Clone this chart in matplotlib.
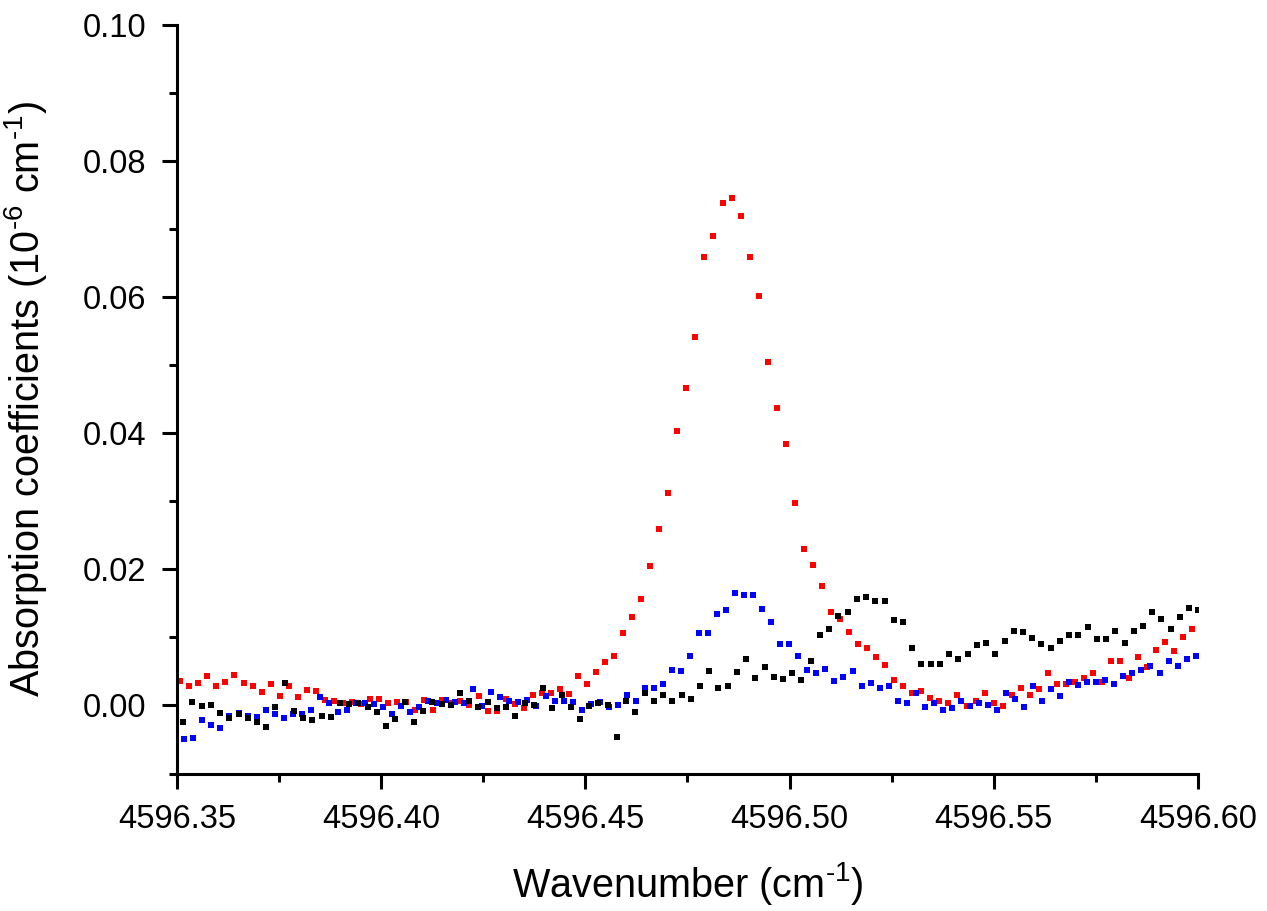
import numpy as np
import matplotlib
matplotlib.use("Agg")
import matplotlib.pyplot as plt
from matplotlib.ticker import MultipleLocator, FormatStrFormatter

plt.rcParams['font.family'] = ['Liberation Sans', 'DejaVu Sans']
plt.rcParams['mathtext.fontset'] = 'custom'
plt.rcParams['mathtext.rm'] = 'Liberation Sans'
plt.rcParams['mathtext.it'] = 'Liberation Sans:italic'

# wavenumber grids (start, step in cm-1) for each trace
red_x0, red_dx = 4596.3508, 0.002213
blue_x0, blue_dx = 4596.3518, 0.002211
black_x0, black_dx = 4596.3515, 0.002260

# absorption coefficients (1e-6 cm-1)
red_y = [0.0036, 0.0028, 0.0033, 0.0043, 0.0029, 0.0035, 0.0045, 0.0033, 0.0029, 0.0020,
         0.0031, 0.0014, 0.0028, 0.0013, 0.0023, 0.0021, 0.0008, 0.0006, 0.0004, 0.0005,
         0.0002, 0.0010, 0.0010, 0.0003, 0.0005, 0.0005, -0.0006, 0.0008, -0.0006, 0.0008,
         0.0004, 0.0007, 0.0000, 0.0014, -0.0008, -0.0008, 0.0009, 0.0002, -0.0004, 0.0016,
         0.0019, 0.0018, 0.0024, 0.0017, 0.0044, 0.0031, 0.0049, 0.0064, 0.0073, 0.0107,
         0.0130, 0.0156, 0.0205, 0.0259, 0.0312, 0.0403, 0.0466, 0.0541, 0.0659, 0.0690,
         0.0739, 0.0745, 0.0719, 0.0659, 0.0601, 0.0505, 0.0437, 0.0384, 0.0298, 0.0230,
         0.0207, 0.0175, 0.0138, 0.0127, 0.0108, 0.0090, 0.0084, 0.0071, 0.0060, 0.0038,
         0.0029, 0.0019, 0.0021, 0.0011, 0.0007, 0.0004, 0.0015, -0.0001, 0.0007, 0.0019,
         0.0004, -0.0001, 0.0015, 0.0025, 0.0016, 0.0024, 0.0047, 0.0032, 0.0032, 0.0034,
         0.0040, 0.0047, 0.0035, 0.0065, 0.0065, 0.0041, 0.0071, 0.0057, 0.0081, 0.0094,
         0.0080, 0.0100, 0.0113]

blue_y = [-0.0049, -0.0048, -0.0022, -0.0028, -0.0033, -0.0016, -0.0011, -0.0015, -0.0017, -0.0006,
          -0.0013, -0.0018, -0.0013, -0.0012, -0.0006, 0.0012, 0.0004, -0.0010, -0.0007, 0.0004,
          0.0003, 0.0002, -0.0002, -0.0013, -0.0001, -0.0010, -0.0002, 0.0006, 0.0004, 0.0008,
          0.0005, 0.0004, 0.0024, -0.0001, 0.0020, 0.0012, 0.0007, 0.0005, 0.0008, -0.0001,
          0.0014, 0.0006, 0.0007, 0.0005, -0.0007, 0.0002, 0.0005, -0.0002, 0.0000, 0.0015,
          0.0007, 0.0025, 0.0025, 0.0032, 0.0052, 0.0051, 0.0072, 0.0107, 0.0107, 0.0134,
          0.0140, 0.0166, 0.0162, 0.0162, 0.0142, 0.0123, 0.0090, 0.0090, 0.0072, 0.0052,
          0.0047, 0.0053, 0.0036, 0.0042, 0.0050, 0.0029, 0.0033, 0.0025, 0.0028, 0.0007,
          0.0003, 0.0019, -0.0002, 0.0004, -0.0007, -0.0003, 0.0007, -0.0001, 0.0004, 0.0000,
          -0.0007, 0.0019, 0.0009, -0.0002, 0.0029, 0.0007, 0.0024, 0.0014, 0.0035, 0.0030,
          0.0035, 0.0034, 0.0037, 0.0031, 0.0044, 0.0048, 0.0052, 0.0058, 0.0048, 0.0066,
          0.0058, 0.0068, 0.0073]

black_y = [-0.0024, 0.0005, -0.0001, 0.0000, -0.0011, -0.0019, -0.0013, -0.0019, -0.0025, -0.0032,
           -0.0002, 0.0033, -0.0008, -0.0019, -0.0022, -0.0016, -0.0017, 0.0003, 0.0002, 0.0004,
           -0.0002, -0.0010, -0.0030, -0.0020, 0.0005, -0.0025, -0.0008, 0.0005, 0.0002, 0.0000,
           0.0019, 0.0007, -0.0002, 0.0005, -0.0004, -0.0002, -0.0016, 0.0004, 0.0000, 0.0025,
           -0.0004, 0.0015, -0.0002, -0.0020, -0.0001, 0.0004, 0.0000, -0.0046, 0.0006, -0.0010,
           0.0019, 0.0007, 0.0015, 0.0007, 0.0015, 0.0009, 0.0028, 0.0050, 0.0025, 0.0029,
           0.0049, 0.0068, 0.0041, 0.0056, 0.0042, 0.0039, 0.0047, 0.0037, 0.0066, 0.0103,
           0.0113, 0.0131, 0.0137, 0.0156, 0.0159, 0.0154, 0.0154, 0.0125, 0.0123, 0.0084,
           0.0061, 0.0061, 0.0061, 0.0075, 0.0068, 0.0075, 0.0089, 0.0092, 0.0076, 0.0095,
           0.0110, 0.0108, 0.0099, 0.0090, 0.0084, 0.0095, 0.0104, 0.0104, 0.0116, 0.0098,
           0.0097, 0.0109, 0.0092, 0.0109, 0.0117, 0.0138, 0.0127, 0.0113, 0.0130, 0.0143,
           0.0141]

red_x = red_x0 + red_dx * np.arange(len(red_y))
blue_x = blue_x0 + blue_dx * np.arange(len(blue_y))
black_x = black_x0 + black_dx * np.arange(len(black_y))

fig = plt.figure(figsize=(12.67, 9.11), dpi=100)
ax = fig.add_axes([0.1397, 0.1509, 0.8058, 0.8217])

ms = 4.6
ax.plot(red_x, red_y, 's', color='#ff0000', ms=ms, mew=0)
ax.plot(blue_x, blue_y, 's', color='#0000ff', ms=ms, mew=0)
ax.plot(black_x, black_y, 's', color='black', ms=ms, mew=0)

ax.set_xlim(4596.35, 4596.60)
ax.set_ylim(-0.01, 0.10)

ax.xaxis.set_major_locator(MultipleLocator(0.05))
ax.xaxis.set_minor_locator(MultipleLocator(0.025))
ax.yaxis.set_major_locator(MultipleLocator(0.02))
ax.yaxis.set_minor_locator(MultipleLocator(0.01))
ax.xaxis.set_major_formatter(FormatStrFormatter('%.2f'))
ax.yaxis.set_major_formatter(FormatStrFormatter('%.2f'))

for s in ['top', 'right']:
    ax.spines[s].set_visible(False)
for s in ['left', 'bottom']:
    ax.spines[s].set_linewidth(2.2)

ax.tick_params(which='major', direction='out', length=11, width=2.2, labelsize=23.5, pad=11)
ax.tick_params(which='minor', direction='out', length=6, width=2.2)

ax.set_xlabel(r'Wavenumber (cm$^{\text{-1}}$)', fontsize=28.5, labelpad=18)
ax.set_ylabel(r'Absorption coefficients (10$^{\text{-6}}$ cm$^{\text{-1}}$)',
              fontsize=28.5, labelpad=24)

fig.savefig('out.png', dpi=100)
